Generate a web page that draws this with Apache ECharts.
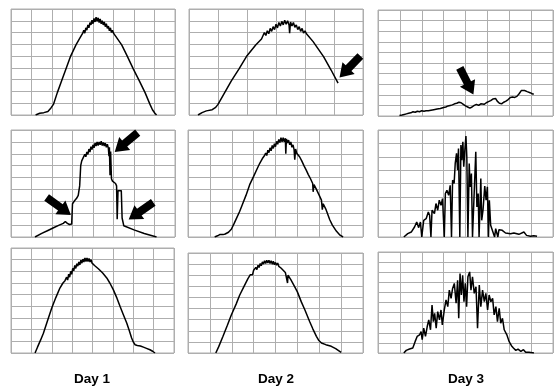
<!DOCTYPE html>
<html>
<head>
<meta charset="utf-8">
<script src="https://cdn.jsdelivr.net/npm/echarts@6/dist/echarts.min.js"></script>
<style>
  html, body { margin: 0; padding: 0; background: #fff; }
  #chart { width: 554px; height: 390px; }
</style>
</head>
<body>
<div id="chart"></div>
<script>
// 每个小图: [x, y]，x 以网格列为单位，y 以网格行为单位
const day1Top = [[1.2,0],[1.4,0.15],[1.6,0.2],[1.8,0.3],[1.95,0.6],[2.07,0.9],[2.26,1.9],[2.47,2.9],[2.68,3.9],[2.91,5.0],[3.17,5.95],[3.35,6.5],[3.5,6.95],
  [3.55,7.2],[3.6,6.95],[3.65,7.4],[3.7,7.2],[3.75,7.65],[3.8,7.4],[3.85,7.85],[3.9,7.65],[3.95,8.05],[4.0,7.75],[4.05,8.2],[4.1,7.9],[4.15,8.3],[4.2,7.95],[4.25,8.25],[4.3,7.85],[4.35,8.15],[4.4,7.75],[4.45,8.0],[4.5,7.65],[4.55,7.9],[4.6,7.5],[4.65,7.75],[4.7,7.35],[4.75,7.55],[4.8,7.15],[4.85,7.4],[4.9,7.0],[4.95,7.2],[5.0,6.95],
  [5.07,6.94],[5.4,5.95],[5.67,5.0],[5.97,3.9],[6.26,2.9],[6.54,1.9],[6.78,0.9],[6.9,0.45],[7.02,0.15],[7.1,0]]
const day2Top = [[0.31,0],[0.45,0.2],[0.6,0.35],[0.8,0.45],[0.92,0.65],[1.0,0.9],[1.23,1.9],[1.46,2.9],[1.72,3.9],[1.98,4.96],[2.3,5.95],[2.5,6.45],
  [2.6,7.0],[2.65,6.75],[2.7,7.15],[2.75,6.9],[2.8,7.35],[2.85,7.1],[2.9,7.5],[2.95,7.25],[3.0,7.7],[3.05,7.4],[3.1,7.85],[3.15,7.55],[3.2,7.95],[3.25,7.65],[3.3,8.05],[3.35,7.7],[3.4,8.0],[3.45,7.65],[3.47,6.95],[3.5,7.9],[3.55,7.55],[3.6,7.85],[3.65,7.45],[3.7,7.65],[3.75,7.25],[3.8,7.5],[3.85,7.1],[3.9,7.35],[3.95,6.95],[4.0,7.15],[4.05,6.9],
  [4.28,6.23],[4.64,4.96],[4.9,3.82],[5.14,2.7]]
const day3Top = [[0.98,0.05],[1.1,0.1],[1.2,0.15],[1.3,0.2],[1.4,0.25],[1.5,0.3],[1.6,0.4],[1.7,0.35],[1.8,0.45],[1.9,0.4],[2.0,0.5],[2.1,0.45],[2.2,0.5],[2.3,0.5],[2.42,0.55],[2.55,0.6],[2.7,0.65],[2.85,0.7],[3.0,0.8],[3.1,0.85],[3.2,0.95],[3.3,1.0],[3.4,1.05],[3.5,1.15],[3.6,1.2],[3.7,1.3],[3.8,1.25],[3.9,1.1],[4.0,0.95],[4.1,0.85],[4.2,0.75],[4.3,0.85],[4.4,1.0],[4.5,1.1],[4.55,1.2],[4.6,1.0],[4.7,1.15],[4.77,1.0],[4.85,1.1],[4.95,1.25],[5.05,1.35],[5.15,1.45],[5.25,1.6],[5.3,1.45],[5.38,1.65],[5.45,1.4],[5.55,1.2],[5.65,1.15],[5.75,1.3],[5.85,1.4],[5.95,1.55],[6.05,1.75],[6.15,1.8],[6.25,1.75],[6.35,1.85],[6.45,2.1],[6.55,2.4],[6.6,2.5],[6.7,2.4],[6.82,2.3],[6.95,2.2],[7.05,2.1],[7.12,2.05]]
const day1Mid = [[1.17,0],[1.5,0.3],[1.8,0.55],[2.1,0.8],[2.35,1.0],[2.55,1.15],[2.65,1.3],[2.7,1.45],[2.75,1.15],[2.8,1.3],[2.85,1.05],[2.9,1.2],[2.96,1.1],[3.0,2.8],[3.1,3.05],[3.2,3.25],[3.28,3.5],[3.35,4.3],[3.4,6.0],[3.45,6.4],[3.53,6.7],[3.6,6.95],[3.65,6.75],[3.7,7.15],[3.75,6.95],[3.8,7.4],[3.85,7.15],[3.9,7.6],[3.95,7.35],[4.0,7.75],[4.05,7.5],[4.1,7.9],[4.15,7.65],[4.2,8.0],[4.25,7.7],[4.3,8.0],[4.35,7.75],[4.4,8.05],[4.45,7.7],[4.5,7.95],[4.55,7.65],[4.6,7.9],[4.65,7.55],[4.7,7.8],[4.75,7.45],[4.78,6.8],[4.8,7.55],[4.83,5.2],[4.86,7.2],[4.9,4.9],[4.95,4.7],[5.0,4.6],[5.1,4.5],[5.15,4.3],[5.18,1.5],[5.22,3.9],[5.3,4.0],[5.38,3.9],[5.42,1.6],[5.5,0.95],[5.58,0.85],[6.0,0.6],[6.5,0.3],[7.1,0]]
const day2Mid = [[1.22,0],[1.35,0.1],[1.45,0.2],[1.6,0.2],[1.7,0.25],[1.85,0.4],[1.98,0.65],[2.1,1.1],[2.2,1.5],[2.36,2.15],[2.5,2.8],[2.65,3.5],[2.82,4.4],[3.0,5.1],[3.15,5.7],[3.28,6.2],[3.4,6.6],[3.5,6.85],[3.55,7.05],[3.6,6.85],[3.65,7.3],[3.7,7.1],[3.75,7.5],[3.8,7.25],[3.85,7.7],[3.9,7.45],[3.95,7.85],[4.0,7.6],[4.05,8.05],[4.1,7.8],[4.15,8.2],[4.2,7.95],[4.25,8.35],[4.3,8.0],[4.35,8.35],[4.4,8.0],[4.45,8.3],[4.47,7.0],[4.5,8.25],[4.55,7.9],[4.6,8.15],[4.65,7.75],[4.7,8.0],[4.75,7.55],[4.8,7.75],[4.85,7.35],[4.88,6.5],[4.92,7.4],[4.97,7.05],[5.03,7.0],[5.1,6.75],[5.2,6.4],[5.3,6.0],[5.41,5.6],[5.5,5.25],[5.6,4.9],[5.7,4.5],[5.72,3.8],[5.76,4.4],[5.87,4.0],[6.0,3.5],[6.1,3.1],[6.14,2.3],[6.18,2.8],[6.3,2.35],[6.48,1.45],[6.6,1.0],[6.78,0.5],[6.95,0.15],[7.09,0]]
const day3Mid = [[1.18,0],[1.36,0.25],[1.52,0.37],[1.67,0.75],[1.77,1.12],[1.86,0.7],[1.94,1.12],[2.0,0],[2.09,1.25],[2.2,1.37],[2.3,1.87],[2.36,1.62],[2.42,0],[2.47,2.0],[2.58,1.75],[2.65,2.5],[2.73,2.0],[2.8,2.75],[2.88,2.37],[2.95,2.87],[3.03,0],[3.08,3.25],[3.15,3.5],[3.23,3.12],[3.3,3.87],[3.36,0],[3.41,4.25],[3.48,4.0],[3.53,5.5],[3.59,6.25],[3.64,5.0],[3.68,6.62],[3.74,0],[3.79,6.87],[3.83,5.75],[3.88,7.12],[3.92,5.25],[3.97,6.5],[4.02,7.55],[4.06,6.0],[4.11,0],[4.17,5.5],[4.21,3.75],[4.27,4.75],[4.32,0],[4.39,3.0],[4.47,6.37],[4.52,2.25],[4.58,3.25],[4.62,0],[4.7,4.37],[4.74,1.25],[4.8,2.0],[4.88,3.8],[4.94,2.75],[5.0,3.75],[5.05,0],[5.09,2.75],[5.15,0.87],[5.23,0.75],[5.33,0],[5.38,0.62],[5.48,0],[5.53,0.55],[5.68,0.5],[5.83,0.3],[6.06,0.25],[6.21,0.3],[6.44,0.2],[6.67,0.37],[6.79,0.12],[6.97,0.05],[7.12,0.1],[7.27,0.05]]
const day1Bot = [[1.18,0],[1.3,0.5],[1.45,1.1],[1.59,1.7],[1.8,2.8],[2.0,3.86],[2.2,4.75],[2.4,5.57],[2.55,6.0],[2.65,6.2],[2.73,6.5],[2.78,6.25],[2.83,6.75],[2.88,6.5],[2.93,7.0],[2.98,6.75],[3.03,7.25],[3.08,7.05],[3.13,7.5],[3.18,7.25],[3.23,7.65],[3.28,7.45],[3.33,7.8],[3.38,7.55],[3.43,7.95],[3.48,7.7],[3.53,8.05],[3.58,7.8],[3.63,8.15],[3.68,7.85],[3.73,8.15],[3.78,7.85],[3.83,8.1],[3.88,7.8],[3.93,8.0],[3.98,7.7],[4.04,7.85],[4.1,7.5],[4.15,7.65],[4.2,7.35],[4.25,7.5],[4.3,7.2],[4.37,7.14],[4.5,6.85],[4.7,6.43],[4.85,6.0],[5.02,5.43],[5.2,4.7],[5.35,4.0],[5.5,3.35],[5.68,2.57],[5.8,1.95],[5.92,1.29],[6.0,0.95],[6.09,0.71],[6.2,0.65],[6.35,0.6],[6.5,0.5],[6.65,0.4],[6.82,0.28],[6.95,0.15],[7.07,0]]
const day2Bot = [[1.27,0],[1.4,0.55],[1.6,1.5],[1.8,2.5],[1.98,3.42],[2.2,4.4],[2.36,5.2],[2.55,5.95],[2.74,6.7],[2.85,7.05],[2.9,7.2],[2.95,7.05],[3.0,7.45],[3.05,7.3],[3.1,7.7],[3.15,7.5],[3.2,7.9],[3.25,7.7],[3.3,8.05],[3.35,7.85],[3.4,8.2],[3.45,8.0],[3.5,8.3],[3.55,8.05],[3.6,8.35],[3.65,8.1],[3.7,8.35],[3.75,8.05],[3.8,8.3],[3.85,8.0],[3.9,8.25],[3.95,7.95],[4.0,8.15],[4.05,7.9],[4.1,8.1],[4.15,7.8],[4.2,7.95],[4.25,7.65],[4.3,7.8],[4.35,7.45],[4.4,7.6],[4.45,7.25],[4.5,7.3],[4.55,6.3],[4.57,7.0],[4.62,6.85],[4.7,6.6],[4.88,5.95],[5.0,5.5],[5.18,4.6],[5.35,3.85],[5.56,2.83],[5.7,2.2],[5.87,1.5],[5.97,1.15],[6.1,0.9],[6.3,0.75],[6.55,0.6],[6.75,0.4],[6.9,0.2],[7.0,0.06]]
const day3Bot = [[1.18,0],[1.29,0.26],[1.44,0.39],[1.59,0.49],[1.7,1.15],[1.79,1.64],[1.9,1.8],[1.97,2.13],[2.02,1.31],[2.09,2.46],[2.17,1.64],[2.25,2.62],[2.32,3.28],[2.4,2.3],[2.47,4.75],[2.53,3.11],[2.59,3.93],[2.66,2.46],[2.73,4.1],[2.81,3.28],[2.88,4.26],[2.94,2.79],[3.03,4.26],[3.11,5.25],[3.19,4.59],[3.26,6.23],[3.34,5.41],[3.41,6.39],[3.49,6.89],[3.57,4.92],[3.64,7.21],[3.69,3.44],[3.75,7.87],[3.81,5.74],[3.87,7.7],[3.93,5.08],[3.99,6.89],[4.05,4.59],[4.11,7.54],[4.19,8.03],[4.25,6.23],[4.32,7.54],[4.4,5.9],[4.48,6.56],[4.55,2.46],[4.63,6.72],[4.7,4.59],[4.78,6.23],[4.86,5.08],[4.93,5.9],[5.01,4.26],[5.08,5.74],[5.16,5.08],[5.24,5.41],[5.31,3.77],[5.39,4.59],[5.46,3.11],[5.54,4.43],[5.61,2.95],[5.69,3.44],[5.77,2.3],[5.89,1.8],[5.99,1.15],[6.1,0.72],[6.19,0.49],[6.3,0.26],[6.4,0.39],[6.53,0.16],[6.65,0.33],[6.75,0.07],[6.9,0.07],[7.13,0]]

// 按行排列的九个小图
const panelSeries = [day1Top, day2Top, day3Top, day1Mid, day2Mid, day3Mid, day1Bot, day2Bot, day3Bot]
// 每个小图的网格列数和行数
const panelCols = [8, 6, 8, 8, 8, 8, 8, 8, 8]
const panelRows = [9, 9, 10, 9, 9, 8, 9, 9, 10]
const dayLabels = ['Day 1', 'Day 2', 'Day 3']

// 箭头: [小图序号, x, y]
const arrowAt = [[1, 5.55, 4.1], [2, 4.05, 3.28], [3, 5.62, 7.97], [3, 2.33, 2.59], [3, 6.34, 2.19]]
const arrowTurn = [136, -153, 130, -126, 125]

const boxes = [
  { left: 11, top: 9, width: 164, height: 106 },
  { left: 189, top: 9, width: 174, height: 106 },
  { left: 378, top: 10, width: 175, height: 106 },
  { left: 11, top: 130, width: 164, height: 107 },
  { left: 188, top: 130, width: 175, height: 107 },
  { left: 378, top: 130, width: 175, height: 107 },
  { left: 11, top: 248, width: 163, height: 105 },
  { left: 188, top: 253, width: 175, height: 100 },
  { left: 378, top: 252, width: 175, height: 101 }
]
const labelX = [92, 276, 466]

const gridColor = '#aeaeae'
const arrowPath = 'path://M8.5,0L17,13L12.5,13L12.5,30L4.5,30L4.5,13L0,13Z'

function axisOf(i, max) {
  return {
    type: 'value',
    gridIndex: i,
    min: 0,
    max: max,
    interval: 1,
    axisLine: { show: false },
    axisTick: { show: false },
    axisLabel: { show: false },
    splitLine: { show: true, lineStyle: { color: gridColor, width: 1 } }
  }
}

const option = {
  animation: false,
  backgroundColor: '#fff',
  grid: boxes.map(b => Object.assign({ show: true, borderColor: gridColor, borderWidth: 1 }, b)),
  xAxis: panelCols.map((c, i) => axisOf(i, c)),
  yAxis: panelRows.map((r, i) => axisOf(i, r)),
  series: panelSeries.map((d, i) => {
    const marks = []
    arrowAt.forEach((a, k) => {
      if (a[0] === i) {
        marks.push({ coord: [a[1], a[2]], symbolRotate: arrowTurn[k] })
      }
    })
    return {
      type: 'line',
      xAxisIndex: i,
      yAxisIndex: i,
      data: d,
      showSymbol: false,
      silent: true,
      lineStyle: { color: '#000', width: 1.5 },
      markPoint: marks.length ? {
        symbol: arrowPath,
        symbolSize: [17, 30],
        silent: true,
        label: { show: false },
        itemStyle: { color: '#000' },
        data: marks
      } : undefined
    }
  }),
  graphic: dayLabels.map((t, i) => ({
    type: 'text',
    x: labelX[i],
    y: 379,
    style: {
      text: t,
      textAlign: 'center',
      textVerticalAlign: 'middle',
      font: 'bold 13.5px "Liberation Sans", Arial, sans-serif',
      fill: '#000'
    }
  }))
}

const chartDom = echarts.init(document.getElementById('chart'))
chartDom.setOption(option)
</script>
</body>
</html>
